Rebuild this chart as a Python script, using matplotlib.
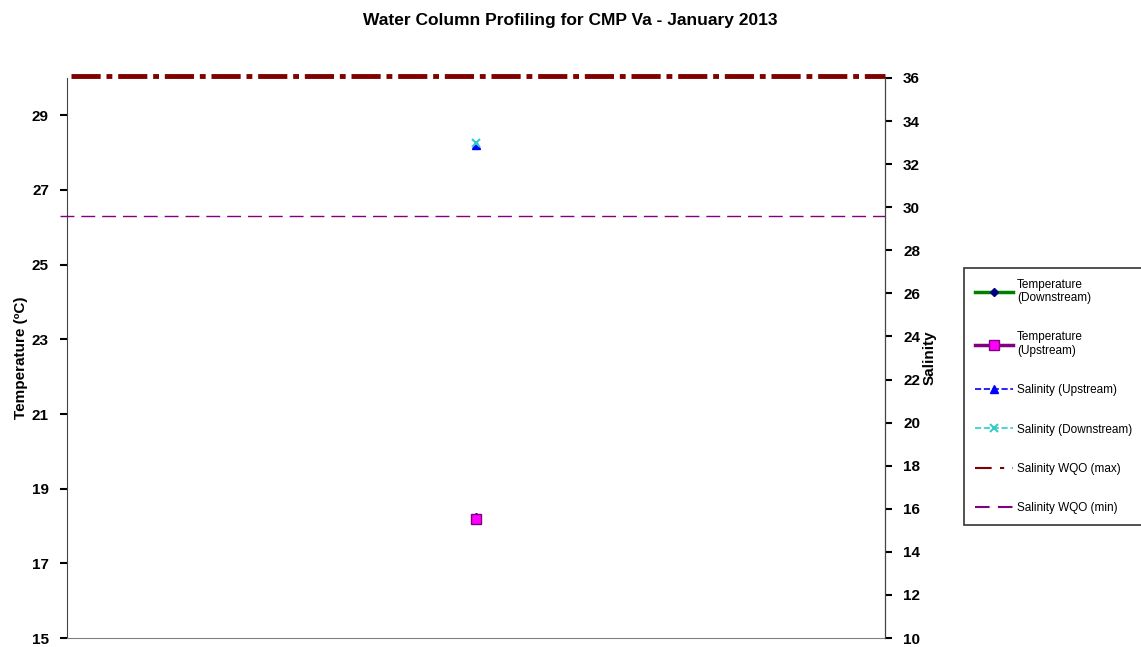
import numpy as np
import matplotlib.pyplot as plt
from matplotlib.lines import Line2D

plt.rcParams['font.family'] = ['Liberation Sans', 'DejaVu Sans']

# данные
stations = [0]
temp_down = [18.25]
temp_up = [18.2]
sal_up = [32.9]
sal_down = [33.0]
sal_wqo_max = 36.0
sal_wqo_min = 29.6

fig = plt.figure(figsize=(11.41, 6.47), dpi=100)
ax = fig.add_axes([67 / 1141, 1 - 638 / 647, 818 / 1141, 560 / 647])
ax2 = ax.twinx()

# температура (левая ось)
l1, = ax.plot(stations, temp_down, color='green', lw=2.5, marker='D', ms=4,
              mfc='navy', mec='navy', label='Temperature\n(Downstream)')
l2, = ax.plot(stations, temp_up, color='purple', lw=2.5, marker='s', ms=7,
              mfc='magenta', mec='purple', label='Temperature\n(Upstream)')

# солёность (правая ось)
l3, = ax2.plot(stations, sal_up, color='blue', lw=1.2, ls='--', marker='^', ms=6,
               mfc='blue', mec='blue', label='Salinity (Upstream)')
l4, = ax2.plot(stations, sal_down, color='#33cccc', lw=1.2, ls='--', marker='x', ms=6,
               mew=1.5, mec='#33cccc', label='Salinity (Downstream)')
ax2.axhline(sal_wqo_max + 0.08, xmin=0.005, color='#800000', lw=3.5, ls=(0, (6, 1.2, 1.2, 1.2)),
            clip_on=False)
ax2.axhline(sal_wqo_min, xmin=-0.009, color='purple', lw=1, ls=(0, (10, 5)),
            clip_on=False)
l5 = Line2D([], [], color='#800000', lw=1.5, ls=(0, (8, 4, 2, 4)), label='Salinity WQO (max)')
l6 = Line2D([], [], color='purple', lw=1.5, ls=(0, (7, 4)), label='Salinity WQO (min)')

ax.set_xlim(-1, 1)
ax.set_ylim(15, 30)
ax.set_yticks(np.arange(15, 30, 2))
ax2.set_ylim(10, 36)
ax2.set_yticks(np.arange(10, 37, 2))
ax.set_xticks([])

for a in (ax, ax2):
    a.tick_params(axis='y', labelsize=11, length=5, width=1.5, pad=8)
    a.spines['top'].set_visible(False)
for lab in ax.get_yticklabels() + ax2.get_yticklabels():
    lab.set_fontweight('bold')
ax.spines['bottom'].set_color('gray')
ax.spines['left'].set_color('#444444')
ax2.spines['right'].set_color('#444444')
ax2.spines['left'].set_visible(False)
ax2.spines['bottom'].set_visible(False)

ax.set_ylabel('Temperature (ºC)', fontsize=11, fontweight='bold', labelpad=3)
ax2.set_ylabel('Salinity', fontsize=11, fontweight='bold', labelpad=2)

fig.suptitle('Water Column Profiling for CMP Va - January 2013', x=0.5, y=0.98,
             fontsize=12.5, fontweight='bold')

leg = fig.legend(handles=[l1, l2, l3, l4, l5, l6], loc='upper left',
                 bbox_to_anchor=(958 / 1141, 1 - 262 / 647), fontsize=8.5,
                 frameon=True, fancybox=False, edgecolor='black', labelspacing=2.3,
                 handlelength=3.3, handletextpad=0.3, borderpad=0.9)
leg.get_frame().set_linewidth(1.2)

plt.savefig('out.png', dpi=100)
